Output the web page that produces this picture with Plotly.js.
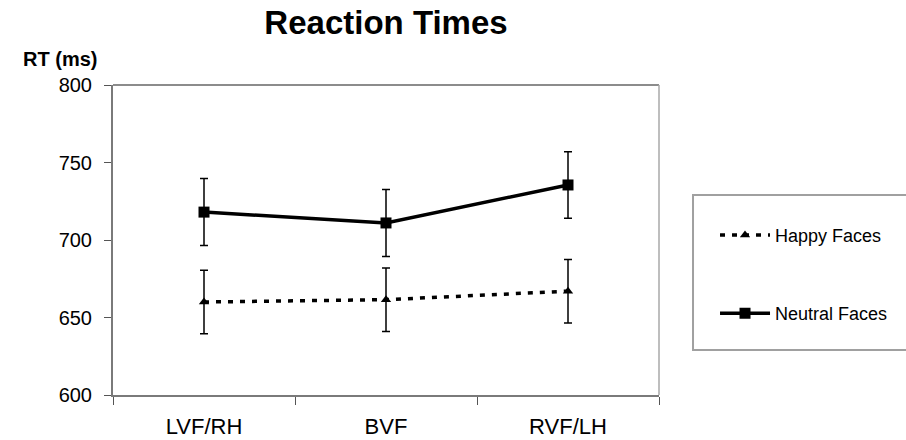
<!DOCTYPE html>
<html>
<head>
<meta charset="utf-8">
<script src="https://cdn.plot.ly/plotly-3.0.1.min.js"></script>
<style>html,body{margin:0;padding:0;background:#fff;}#chart{width:906px;height:440px;}</style>
</head>
<body>
<div id="chart"></div>
<script>
const categories = ["LVF/RH", "BVF", "RVF/LH"];
const happyRT = [660, 661.5, 667];
const happyErr = [20.5, 20.5, 20.5];
const neutralRT = [718, 711, 735.5];
const neutralErr = [21.6, 21.6, 21.5];
const seriesNames = ["Happy Faces", "Neutral Faces"];
const yTicks = [600, 650, 700, 750, 800];

const FONT = "Liberation Sans, Arial, sans-serif";

const traces = [
  {
    x: categories, y: happyRT, name: seriesNames[0], type: "scatter", mode: "lines+markers",
    legendgroup: "a",
    line: {color: "#000", width: 3.5, dash: "5px,7px"},
    marker: {symbol: "triangle-up", size: 9, color: "#000"},
    error_y: {type: "data", array: happyErr, visible: true, color: "#000", thickness: 1.5, width: 4}
  },
  {
    x: categories, y: neutralRT, name: seriesNames[1], type: "scatter", mode: "lines+markers",
    legendgroup: "b",
    line: {color: "#000", width: 3.5},
    marker: {symbol: "square", size: 11, color: "#000"},
    error_y: {type: "data", array: neutralErr, visible: true, color: "#000", thickness: 1.5, width: 4}
  }
];

const layout = {
  width: 906, height: 440,
  margin: {l: 113, r: 247, t: 85, b: 45},
  paper_bgcolor: "#fff", plot_bgcolor: "#fff",
  font: {family: FONT, color: "#000"},
  title: {
    text: "<b>Reaction Times</b>",
    font: {family: FONT, size: 33, color: "#000"},
    xref: "paper", x: 0.5, xanchor: "center",
    yref: "container", y: 0.95, yanchor: "middle"
  },
  xaxis: {
    type: "category",
    range: [-0.5, 2.5],
    tickson: "boundaries",
    ticks: "outside", ticklen: 8, tickwidth: 1, tickcolor: "#555",
    showline: true, linecolor: "#7a7a7a", linewidth: 2,
    showgrid: false, zeroline: false,
    tickfont: {family: FONT, size: 22, color: "#000"},
    ticklabelstandoff: 11,
    fixedrange: true
  },
  yaxis: {
    range: [600, 800],
    tickvals: yTicks,
    ticks: "outside", ticklen: 7, tickwidth: 1, tickcolor: "#555",
    showline: true, linecolor: "#7a7a7a", linewidth: 2,
    showgrid: false, zeroline: false,
    tickfont: {family: FONT, size: 20, color: "#000"},
    ticklabelstandoff: 8,
    fixedrange: true
  },
  showlegend: true,
  legend: {
    x: 1.1026, y: 0.575, xanchor: "left", yanchor: "top",
    xref: "paper", yref: "paper",
    bgcolor: "rgba(0,0,0,0)", borderwidth: 0,
    font: {family: FONT, size: 18, color: "#000"},
    tracegroupgap: 52,
    itemwidth: 50,
    traceorder: "grouped"
  },
  shapes: [
    {type: "line", xref: "paper", yref: "paper", x0: 0, x1: 1, y0: 1, y1: 1, line: {color: "#8c8c8c", width: 2}},
    {type: "line", xref: "paper", yref: "paper", x0: 1, x1: 1, y0: 0, y1: 1, line: {color: "#a8a8a8", width: 1.5}},
    {type: "rect", xref: "paper", yref: "paper", x0: 1.0623, x1: 1.47, y0: 0.145, y1: 0.645, line: {color: "#a0a0a0", width: 2}, fillcolor: "rgba(0,0,0,0)"}
  ],
  annotations: [
    {text: "<b>RT (ms)</b>", xref: "paper", yref: "paper", x: -0.097, y: 1.084,
     xanchor: "center", yanchor: "middle", showarrow: false,
     font: {family: FONT, size: 20, color: "#000"}}
  ]
};

Plotly.newPlot("chart", traces, layout, {displayModeBar: false, staticPlot: true});
</script>
</body>
</html>
